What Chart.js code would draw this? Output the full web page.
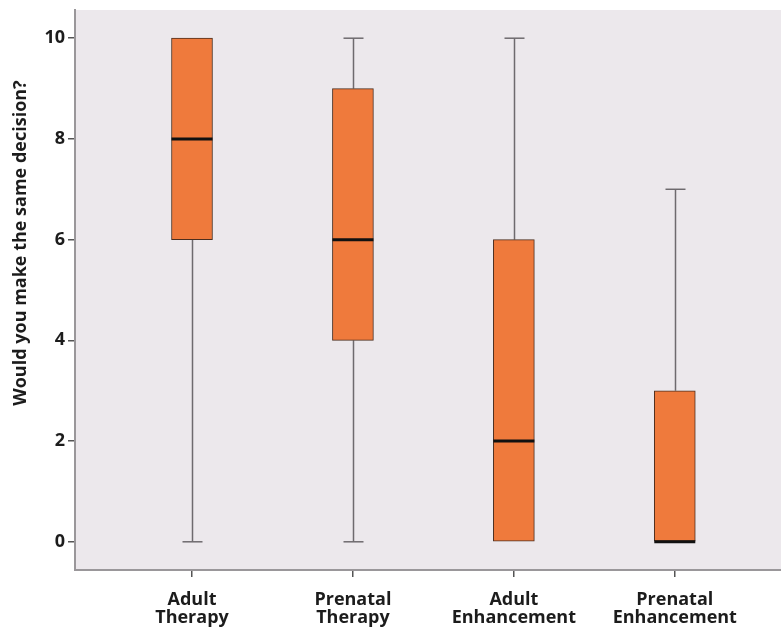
<!DOCTYPE html>
<html>
<head>
<meta charset="utf-8">
<script src="https://cdn.jsdelivr.net/npm/chart.js@4/dist/chart.umd.min.js"></script>
<style>
  html, body { margin: 0; padding: 0; background: #fff; }
  #wrap { width: 781px; height: 628px; }
</style>
</head>
<body>
<div id="wrap"><canvas id="boxChart"></canvas></div>
<script>
// values
const categories = [["Adult", "Therapy"], ["Prenatal", "Therapy"], ["Adult", "Enhancement"], ["Prenatal", "Enhancement"]];
const mins = [0, 0, 0, 0];
const q1s = [6, 4, 0, 0];
const medians = [8, 6, 2, 0];
const q3s = [10, 9, 6, 3];
const maxs = [10, 10, 10, 7];
const yTicks = [0, 2, 4, 6, 8, 10];
const yTitle = "Would you make the same decision?";

const BOX_FILL = "#ef7a3c";
const BOX_EDGE = "#4d2e1e";
const WHISKER = "#6e6a6e";
const FONT = "'Open Sans', 'Noto Sans', sans-serif";

// plot background
const bgPlugin = {
  id: "plotBg",
  beforeDraw(chart) {
    const { ctx, chartArea: a } = chart;
    ctx.save();
    ctx.fillStyle = "#ece8ec";
    ctx.fillRect(a.left, a.top, a.right - a.left, a.bottom - a.top);
    ctx.restore();
  }
};

// y title sits above the middle of the axis in the original, so draw it by hand
const titlePlugin = {
  id: "yTitle",
  afterDraw(chart) {
    const { ctx } = chart;
    ctx.save();
    ctx.translate(21, 243);
    ctx.rotate(-Math.PI / 2);
    ctx.font = "bold 18px " + FONT;
    ctx.fillStyle = "#1c1c1c";
    ctx.textAlign = "center";
    ctx.textBaseline = "middle";
    ctx.fillText(yTitle, 0, 0);
    ctx.restore();
  }
};

// whiskers behind boxes, medians on top
const boxPlugin = {
  id: "boxExtras",
  beforeDatasetsDraw(chart) {
    const { ctx, scales: { x, y } } = chart;
    ctx.save();
    ctx.strokeStyle = WHISKER;
    ctx.lineWidth = 1.5;
    categories.forEach((c, i) => {
      const px = Math.round(x.getPixelForValue(i)) + 0.5;
      const segs = [[mins[i], q1s[i]], [q3s[i], maxs[i]]];
      segs.forEach(([a, b]) => {
        if (a === b) return;
        ctx.beginPath();
        ctx.moveTo(px, y.getPixelForValue(a));
        ctx.lineTo(px, y.getPixelForValue(b));
        ctx.stroke();
        // cap at the outer end
        const py = y.getPixelForValue(a === mins[i] ? a : b);
        ctx.beginPath();
        ctx.moveTo(px - 10, py);
        ctx.lineTo(px + 10, py);
        ctx.stroke();
      });
    });
    ctx.restore();
  },
  afterDatasetsDraw(chart) {
    const { ctx, scales: { x, y } } = chart;
    ctx.save();
    ctx.strokeStyle = "#111";
    ctx.lineWidth = 3;
    categories.forEach((c, i) => {
      const px = x.getPixelForValue(i);
      const py = y.getPixelForValue(medians[i]);
      ctx.beginPath();
      ctx.moveTo(px - 20.5, py);
      ctx.lineTo(px + 20.5, py);
      ctx.stroke();
    });
    ctx.restore();
  }
};

new Chart(document.getElementById("boxChart"), {
  type: "bar",
  data: {
    datasets: [{
      data: categories.map((c, i) => ({ x: i, y: [q1s[i], q3s[i]] })),
      backgroundColor: BOX_FILL,
      borderColor: BOX_EDGE,
      borderWidth: 1,
      borderSkipped: false,
      barThickness: 41
    }]
  },
  options: {
    responsive: true,
    maintainAspectRatio: false,
    animation: false,
    layout: { padding: { top: 10, right: 0, left: 0, bottom: 0 } },
    plugins: { legend: { display: false }, tooltip: { enabled: false } },
    scales: {
      x: {
        type: "linear",
        offset: false,
        min: -0.727,
        max: 3.66,
        afterBuildTicks: s => { s.ticks = categories.map((c, i) => ({ value: i })); },
        afterFit: s => { s.height = 58; s.paddingLeft = 0; s.paddingRight = 0; },
        grid: { display: true, offset: false, drawOnChartArea: false, tickLength: 7, color: "#555", lineWidth: 1.5 },
        border: { color: "#9a979a", width: 2 },
        ticks: {
          callback: v => categories[v],
          color: "#1c1c1c",
          padding: 13,
          maxRotation: 0,
          autoSkip: false,
          font: { family: FONT, size: 18, weight: "bold", lineHeight: 1.05 }
        }
      },
      y: {
        min: -0.56,
        max: 10.56,
        afterBuildTicks: s => { s.ticks = yTicks.map(v => ({ value: v })); },
        afterFit: s => { s.width = 75; s.paddingTop = 0; s.paddingBottom = 0; },
        grid: { display: true, drawOnChartArea: false, tickLength: 7, color: "#555", lineWidth: 1.5 },
        border: { color: "#9a979a", width: 2 },
        ticks: {
          color: "#1c1c1c",
          padding: 3,
          font: { family: FONT, size: 18, weight: "bold" }
        }
      }
    }
  },
  plugins: [bgPlugin, boxPlugin, titlePlugin]
});
</script>
</body>
</html>
